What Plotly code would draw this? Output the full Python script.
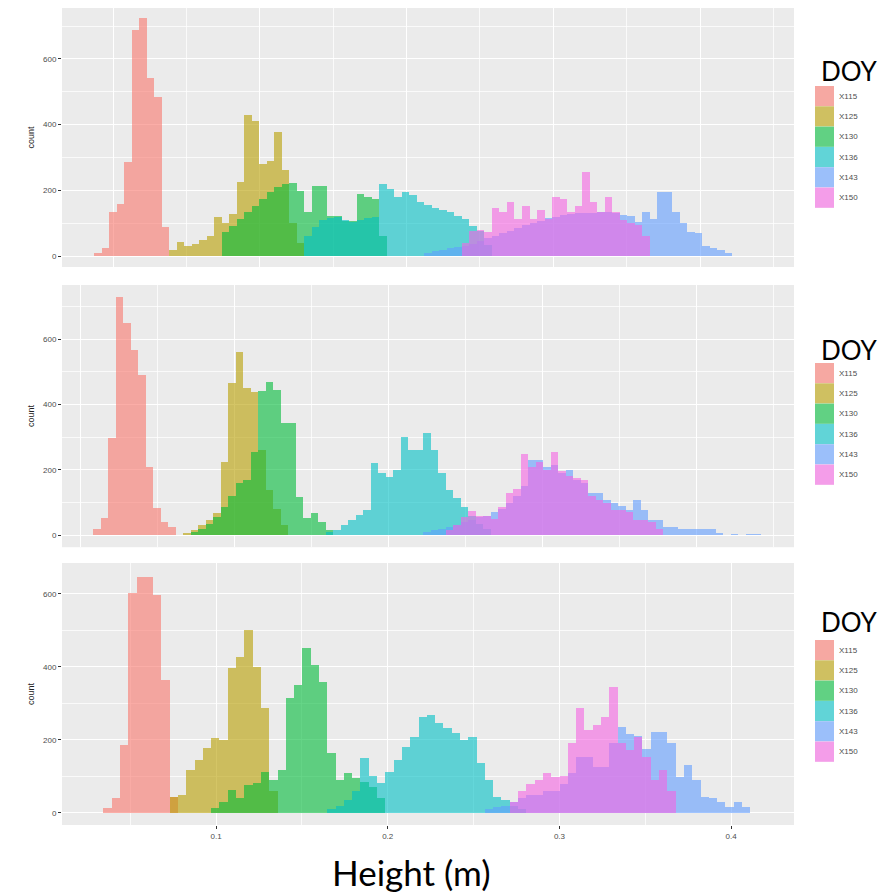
import plotly.graph_objects as go

# ---------------- data ----------------
SERIES = ["X115", "X125", "X130", "X136", "X143", "X150"]
COLORS = ["#F8766D", "#B79F00", "#00BA38", "#00BFC4", "#619CFF", "#F564E3"]

# Panel 1 histogram: bins start at P1_BIN_START, width P1_BIN_WIDTH (m); first bin index per series
P1_BIN_START = 0.0291
P1_BIN_WIDTH = 0.00437
P1_FIRST_BIN = [0, 10, 17, 28, 44, 49]
P1_X115 = [10, 25, 133, 158, 285, 688, 724, 542, 485, 88]
P1_X125 = [20, 42, 30, 38, 48, 62, 118, 100, 128, 225, 430, 410, 280, 290, 378, 262, 100, 40]
P1_X130 = [72, 91, 112, 133, 152, 173, 194, 210, 218, 224, 197, 133, 212, 212, 121, 121,
           106, 106, 188, 179, 175, 60]
P1_X136 = [60, 90, 110, 115, 118, 110, 105, 110, 115, 120, 218, 205, 180, 194, 185, 164,
           155, 148, 140, 133, 121, 112, 91, 76, 35]
P1_X143 = [10, 15, 20, 25, 28, 32, 38, 45, 55, 62, 70, 78, 85, 95, 100, 108, 115, 120, 125,
           128, 130, 132, 130, 135, 135, 130, 125, 121, 105, 133, 112, 194, 194, 133, 100,
           73, 70, 30, 25, 18, 10]
P1_X150 = [40, 76, 80, 73, 148, 133, 164, 112, 152, 112, 140, 112, 179, 173, 133, 152, 255,
           164, 133, 179, 133, 110, 100, 95, 60]

# Panel 2
P2_BIN_START = 0.0284
P2_BIN_WIDTH = 0.00437
P2_FIRST_BIN = [0, 12, 13, 31, 44, 47]
P2_X115 = [20, 52, 297, 728, 649, 566, 490, 208, 83, 40, 25]
P2_X125 = [8, 15, 30, 45, 67, 223, 465, 560, 450, 438, 260, 137, 80, 30]
P2_X130 = [10, 20, 35, 55, 86, 120, 159, 168, 254, 440, 470, 445, 345, 343, 116, 52, 67, 40, 15]
P2_X136 = [10, 15, 30, 45, 61, 77, 220, 190, 177, 200, 300, 260, 262, 312, 260, 190, 138,
           113, 86, 60, 35, 20]
P2_X143 = [10, 15, 20, 25, 30, 40, 45, 55, 60, 70, 80, 100, 120, 150, 229, 229, 210, 215,
           190, 199, 170, 159, 128, 128, 107, 100, 90, 77, 107, 77, 46, 46, 25, 25, 20, 20,
           20, 18, 18, 8, 0, 4, 0, 5, 5]
P2_X150 = [15, 30, 55, 75, 60, 60, 50, 85, 128, 140, 250, 210, 225, 200, 254, 195, 180, 175,
           168, 120, 107, 100, 77, 77, 70, 46, 46, 40, 20]

# Panel 3
P3_BIN_START = 0.0344
P3_BIN_WIDTH = 0.00483
P3_FIRST_BIN = [0, 8, 13, 27, 46, 49]
P3_X115 = [14, 41, 186, 603, 647, 647, 597, 364, 44]
P3_X125 = [44, 49, 118, 145, 178, 205, 200, 397, 427, 501, 400, 288, 60]
P3_X130 = [14, 30, 63, 41, 77, 82, 112, 90, 118, 315, 350, 452, 405, 359, 164, 90, 110, 95,
           85, 70, 40]
P3_X136 = [10, 20, 35, 60, 150, 100, 82, 112, 145, 181, 208, 263, 268, 246, 233, 219, 200,
           208, 137, 90, 44, 36, 20, 10]
P3_X143 = [10, 15, 20, 30, 40, 50, 50, 60, 60, 80, 110, 153, 153, 126, 126, 192, 236, 215,
           210, 175, 222, 222, 192, 99, 131, 90, 44, 41, 30, 16, 30, 16]
P3_X150 = [30, 60, 80, 90, 110, 99, 100, 192, 288, 227, 240, 263, 345, 192, 173, 208, 153,
           90, 118, 60]

Y_TICKS = [0, 200, 400, 600]
X_TICKS = [0.1, 0.2, 0.3, 0.4]
X_LABEL = "Height (m)"
LEGEND_TITLE = "DOY"

PANELS = [
    (P1_BIN_START, P1_BIN_WIDTH, P1_FIRST_BIN, [P1_X115, P1_X125, P1_X130, P1_X136, P1_X143, P1_X150]),
    (P2_BIN_START, P2_BIN_WIDTH, P2_FIRST_BIN, [P2_X115, P2_X125, P2_X130, P2_X136, P2_X143, P2_X150]),
    (P3_BIN_START, P3_BIN_WIDTH, P3_FIRST_BIN, [P3_X115, P3_X125, P3_X130, P3_X136, P3_X143, P3_X150]),
]

# ---------------- layout geometry ----------------
# the page body has an 8px margin, so the figure is sized to fit the window
OFF = 8
W, H = 891 - OFF, 892 - OFF
ML, MR, MT, MB = 54, 97, 0, 67
PW, PH = W - ML - MR, H - MT - MB


def px_x(px):
    """page pixel x -> paper coordinate"""
    return (px - OFF - ML) / PW


def px_y(py):
    """page pixel y -> paper coordinate"""
    return (H - MB - (py - OFF)) / PH


Y_DOMAINS = [[0.683, 1.0], [0.340, 0.661], [0.0, 0.3207]]
Y_RANGES = [[-33, 755], [-37, 766], [-33, 684]]
X_RANGE = [0.0103, 0.4366]
# gridline spacing of the upper two panels (their own scales, labels hidden)
GRID_P1 = (0.0400, 0.08547)
GRID_P2 = (0.0208, 0.0897)

ALPHA = 0.6


def rgba(hexc, a):
    h = hexc.lstrip("#")
    r, g, b = int(h[0:2], 16), int(h[2:4], 16), int(h[4:6], 16)
    return f"rgba({r},{g},{b},{a})"


fig = go.Figure()

for p, (start, width, firsts, series_counts) in enumerate(PANELS):
    ax = "" if p == 0 else str(p + 1)
    for name, color, k0, counts in zip(SERIES, COLORS, firsts, series_counts):
        xs = [start + (k0 + i + 0.5) * width for i in range(len(counts))]
        fig.add_trace(go.Bar(
            x=xs, y=counts, width=width, name=name,
            marker=dict(color=rgba(color, ALPHA), line=dict(width=0)),
            xaxis="x" + ax, yaxis="y" + ax, showlegend=False,
        ))

tick_font = dict(family="Liberation Sans, Arial", size=8, color="#4D4D4D")

layout = dict(
    width=W, height=H,
    margin=dict(l=ML, r=MR, t=MT, b=MB),
    paper_bgcolor="white", plot_bgcolor="#EBEBEB",
    barmode="overlay", bargap=0,
    showlegend=False,
)

for p in range(3):
    ax = "" if p == 0 else str(p + 1)
    xa = dict(
        domain=[0, 1], range=X_RANGE, anchor="y" + ax,
        showgrid=True, gridcolor="white", gridwidth=1.1, zeroline=False,
        showline=False, fixedrange=True,
    )
    if p == 2:
        xa.update(tickmode="array", tickvals=X_TICKS, ticktext=[str(v) for v in X_TICKS],
                  ticks="outside", ticklen=3, tickcolor="#333333", tickwidth=1,
                  tickfont=tick_font,
                  minor=dict(tickmode="linear", tick0=0.05, dtick=0.1, showgrid=True,
                             gridcolor="rgba(255,255,255,0.75)", gridwidth=0.5, ticks=""))
    else:
        t0, dt = GRID_P1 if p == 0 else GRID_P2
        xa.update(tickmode="linear", tick0=t0, dtick=dt, showticklabels=False, ticks="",
                  minor=dict(tickmode="linear", tick0=t0 + dt / 2, dtick=dt, showgrid=True,
                             gridcolor="rgba(255,255,255,0.75)", gridwidth=0.5, ticks=""))
    ya = dict(
        domain=Y_DOMAINS[p], range=Y_RANGES[p], anchor="x" + ax,
        tickmode="array", tickvals=Y_TICKS, ticktext=[str(v) for v in Y_TICKS],
        ticks="outside", ticklen=3, tickcolor="#333333", tickwidth=1,
        tickfont=tick_font,
        showgrid=True, gridcolor="white", gridwidth=1.1, zeroline=False, showline=False,
        minor=dict(tickmode="array", tickvals=[100, 300, 500, 700], showgrid=True,
                   gridcolor="rgba(255,255,255,0.75)", gridwidth=0.5, ticks=""),
        title=dict(text="count", font=dict(family="Liberation Sans, Arial", size=9,
                                           color="#222222"), standoff=6),
        fixedrange=True,
    )
    layout["xaxis" + ax] = xa
    layout["yaxis" + ax] = ya

fig.update_layout(**layout)

# ---------------- legends (one per panel) ----------------
LEG_TOPS = [86, 363, 640]
LEG_TITLE_Y = [71, 350, 622]
ROW_H = 20.3
shapes = []
annotations = []
for p in range(3):
    annotations.append(dict(
        text=LEGEND_TITLE, xref="paper", yref="paper", x=px_x(849), y=px_y(LEG_TITLE_Y[p]),
        xanchor="center", yanchor="middle", showarrow=False,
        font=dict(family="Lato, Carlito, sans-serif", size=26, color="black"),
    ))
    for i, (name, color) in enumerate(zip(SERIES, COLORS)):
        top = LEG_TOPS[p] + i * ROW_H
        shapes.append(dict(type="rect", xref="paper", yref="paper",
                           x0=px_x(815), x1=px_x(834), y0=px_y(top + ROW_H), y1=px_y(top),
                           fillcolor="#F2F2F2", line=dict(width=0), layer="above"))
        shapes.append(dict(type="rect", xref="paper", yref="paper",
                           x0=px_x(815), x1=px_x(834), y0=px_y(top + ROW_H), y1=px_y(top),
                           fillcolor=rgba(color, ALPHA), line=dict(width=0), layer="above"))
        annotations.append(dict(
            text=name, xref="paper", yref="paper", x=px_x(837), y=px_y(top + ROW_H / 2),
            xanchor="left", yanchor="middle", showarrow=False,
            font=dict(family="Liberation Sans, Arial", size=8, color="#4D4D4D"),
        ))

annotations.append(dict(
    text=X_LABEL, xref="paper", yref="paper", x=px_x(411), y=px_y(872),
    xanchor="center", yanchor="middle", showarrow=False,
    font=dict(family="Lato, Carlito, sans-serif", size=35, color="black"),
))

fig.update_layout(shapes=shapes, annotations=annotations)

fig.write_html("out.html")
